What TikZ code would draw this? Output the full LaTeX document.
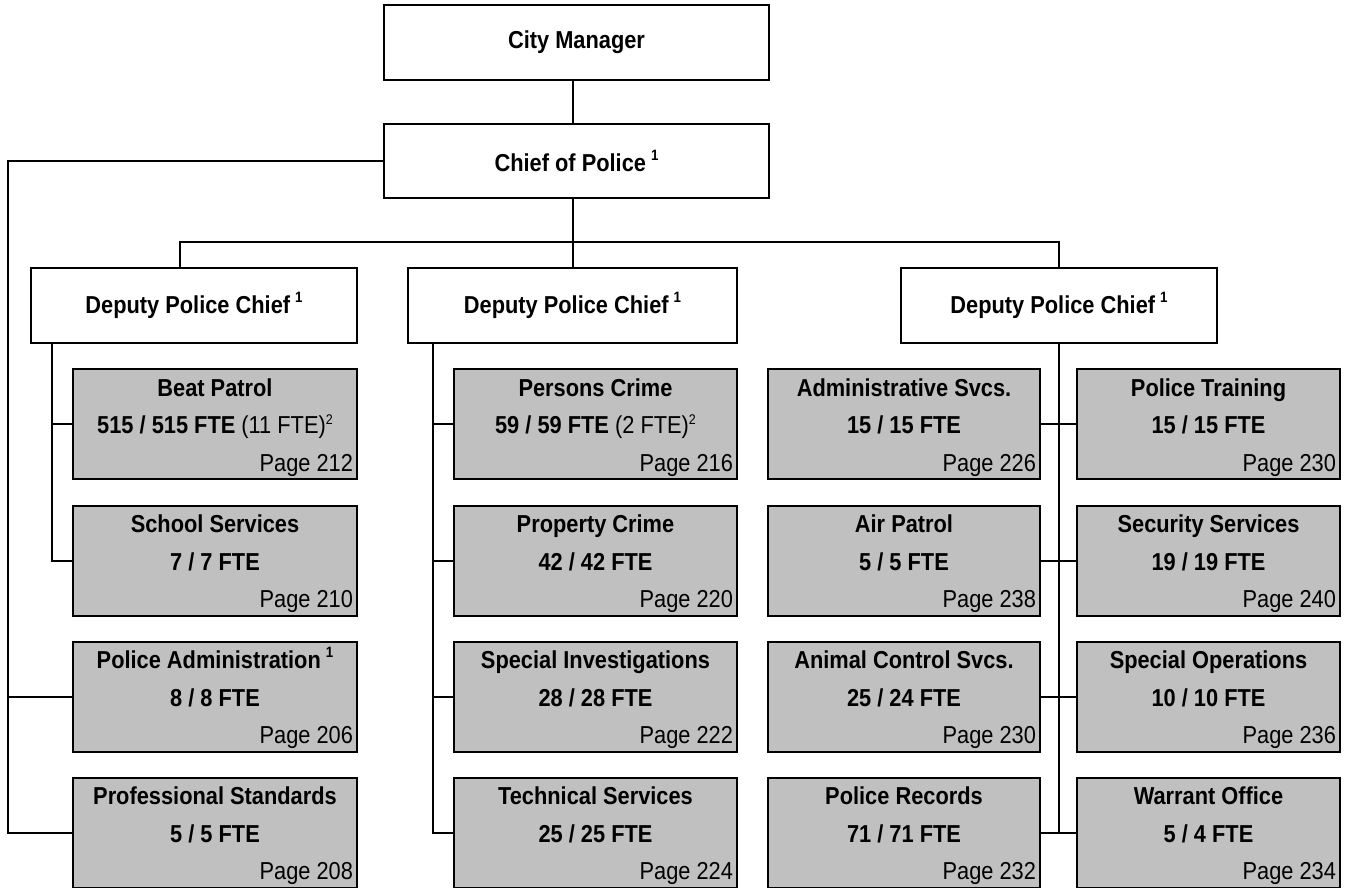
\documentclass[tikz,border=0pt]{standalone}
\usepackage{fontspec}
\setmainfont{Liberation Sans}[FakeStretch=0.89]
\usetikzlibrary{calc}
\definecolor{unitgrey}{HTML}{C0C0C0}
\tikzset{%
    office/.style={draw, line width=2pt, fill=white, inner sep=0pt,
        font=\fontsize{24.5}{30}\selectfont\bfseries},
    unit/.style={draw, line width=2pt, fill=unitgrey, inner sep=0pt},
    link/.style={line width=2pt}
}
\newcommand\Note[1]{\hspace{5pt}\raisebox{11pt}{\fontsize{15}{15}\selectfont #1}}
\newcommand\Sup[1]{\raisebox{9pt}{\fontsize{14}{14}\selectfont #1}}
\newcommand\Unit[7]{%
    \node[unit, minimum width=#4pt, minimum height=110pt] (#1) at (#2,#3) {%
      \parbox[c][110pt][t]{\dimexpr#4pt-8pt\relax}{%
        \fontsize{24.5}{37.5}\selectfont
        {\centering\rule{0pt}{27pt}\textbf{#5}\par #6\par}%
        {\raggedleft Page #7\par}}}
}

\begin{document}
\begin{tikzpicture}[x=1pt, y=-1pt]
      \useasboundingbox (0,0) rectangle (1349,888);

      \node[office, minimum width=385pt, minimum height=75pt] (cm) at (576.5,42.5) {City Manager};
      \node[office, minimum width=385pt, minimum height=74pt] (chief) at (576.5,161) {Chief of Police\Note{1}};

      \node[office, minimum width=326pt, minimum height=75pt] (dep1) at (194,305.5) {Deputy Police Chief\Note{1}};
      \node[office, minimum width=329pt, minimum height=75pt] (dep2) at (572.5,305.5) {Deputy Police Chief\Note{1}};
      \node[office, minimum width=316pt, minimum height=75pt] (dep3) at (1059,305.5) {Deputy Police Chief\Note{1}};

      \Unit{beat}{215}{424}{284}{Beat Patrol}{\textbf{515 / 515 FTE} (11 FTE)\Sup{2}}{212};
      \Unit{school}{215}{560.5}{284}{School Services}{\textbf{7 / 7 FTE}}{210};
      \Unit{padmin}{215}{696.5}{284}{Police Administration\Note{1}}{\textbf{8 / 8 FTE}}{206};
      \Unit{profstd}{215}{832.5}{284}{Professional Standards}{\textbf{5 / 5 FTE}}{208};

      \Unit{persons}{595.5}{424}{283}{Persons Crime}{\textbf{59 / 59 FTE} (2 FTE)\Sup{2}}{216};
      \Unit{property}{595.5}{560.5}{283}{Property Crime}{\textbf{42 / 42 FTE}}{220};
      \Unit{specinv}{595.5}{696.5}{283}{Special Investigations}{\textbf{28 / 28 FTE}}{222};
      \Unit{techsvc}{595.5}{832.5}{283}{Technical Services}{\textbf{25 / 25 FTE}}{224};

      \Unit{adminsvc}{904}{424}{272}{Administrative Svcs.}{\textbf{15 / 15 FTE}}{226};
      \Unit{air}{904}{560.5}{272}{Air Patrol}{\textbf{5 / 5 FTE}}{238};
      \Unit{animal}{904}{696.5}{272}{Animal Control Svcs.}{\textbf{25 / 24 FTE}}{230};
      \Unit{records}{904}{832.5}{272}{Police Records}{\textbf{71 / 71 FTE}}{232};

      \Unit{training}{1208.5}{424}{263}{Police Training}{\textbf{15 / 15 FTE}}{230};
      \Unit{security}{1208.5}{560.5}{263}{Security Services}{\textbf{19 / 19 FTE}}{240};
      \Unit{specops}{1208.5}{696.5}{263}{Special Operations}{\textbf{10 / 10 FTE}}{236};
      \Unit{warrant}{1208.5}{832.5}{263}{Warrant Office}{\textbf{5 / 4 FTE}}{234};

      \coordinate (busL) at (180,242);
      \coordinate (spine) at (8,0);
      \coordinate (br1) at (52,0);
      \coordinate (br2) at (433,0);

      \draw[link] (cm.south -| dep2.north) -- (chief.north -| dep2.north);
      \draw[link] (chief.south -| dep2.north) -- (dep2.north);
      \draw[link] (busL |- dep1.north) -- (busL) -- (busL -| dep3.north) -- (dep3.north);

      \draw[link] (chief.west) -| (spine |- profstd.west) -- (profstd.west);
      \draw[link] (spine |- padmin.west) -- (padmin.west);

      \draw[link] (br1 |- dep1.south) |- (school.west);
      \draw[link] (br1 |- beat.west) -- (beat.west);

      \draw[link] (br2 |- dep2.south) |- (techsvc.west);
      \foreach \u in {persons,property,specinv}
        \draw[link] (br2 |- \u.west) -- (\u.west);

      \draw[link] (dep3.south) -- (dep3.south |- records.east);
      \foreach \a/\b in {adminsvc/training,air/security,animal/specops,records/warrant}
        \draw[link] (\a.east) -- (\b.west);
\end{tikzpicture}
\end{document}
